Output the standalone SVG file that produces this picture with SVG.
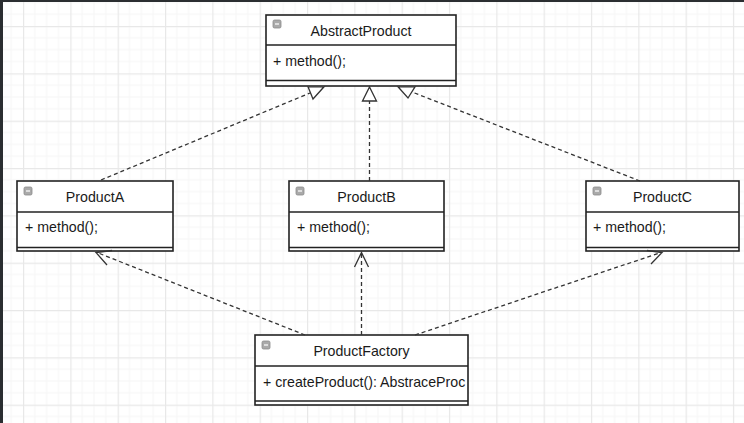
<svg xmlns="http://www.w3.org/2000/svg" width="744" height="423" viewBox="0 0 744 423">
  <defs>
    <pattern id="grid" patternUnits="userSpaceOnUse" x="23" y="26" width="47.33" height="47.33">
      <path d="M11.83 0V47.33M23.67 0V47.33M35.5 0V47.33M0 11.83H47.33M0 23.67H47.33M0 35.5H47.33" stroke="#f6f6f6" stroke-width="1" fill="none"/>
      <path d="M0.5 0V47.33M0 0.5H47.33" stroke="#e8e8e8" stroke-width="1.4" fill="none"/>
    </pattern>
    <clipPath id="clipF"><rect x="256" y="366" width="210" height="34"/></clipPath>
  </defs>
  <style>
    .box { fill: #ffffff; stroke: #222222; stroke-width: 1.6; }
    .div { stroke: #222222; stroke-width: 1.6; fill: none; }
    .title { font-family: "Liberation Sans", Arial, sans-serif; font-size: 14.2px; fill: #1a1a1a; text-anchor: middle; }
    .meth { font-family: "Liberation Sans", Arial, sans-serif; font-size: 14.2px; fill: #1a1a1a; }
    .icon { fill: #aaaaaa; stroke: #8a8a8a; stroke-width: 0.8; }
    .iconbar { stroke: #ffffff; stroke-width: 1.2; }
    .dash { stroke: #333333; stroke-width: 1.3; stroke-dasharray: 4 3; fill: none; }
    .head { stroke: #333333; stroke-width: 1.3; fill: #ffffff; stroke-linejoin: miter; }
    .open { stroke: #333333; stroke-width: 1.3; fill: none; }
  </style>
  <rect x="0" y="0" width="744" height="423" fill="#ffffff"/>
  <rect x="0" y="0" width="744" height="423" fill="url(#grid)"/>
  <rect x="0" y="0" width="3" height="423" fill="#2b2e31"/>
  <rect x="0" y="0" width="744" height="2" fill="#2b2e31"/>

  <g id="AbstractProduct">
    <rect class="box" x="266" y="15" width="190" height="71"/>
    <line class="div" x1="266" y1="45" x2="456" y2="45"/>
    <line class="div" x1="266" y1="80.5" x2="456" y2="80.5"/>
    <rect class="icon" x="273" y="20" width="8" height="8" rx="1.5"/>
    <line class="iconbar" x1="275" y1="24" x2="279" y2="24"/>
    <text class="title" x="361" y="36">AbstractProduct</text>
    <text class="meth" x="273" y="66">+ method();</text>
  </g>

  <g id="ProductA">
    <rect class="box" x="17" y="181" width="156" height="70"/>
    <line class="div" x1="17" y1="212" x2="173" y2="212"/>
    <line class="div" x1="17" y1="247.5" x2="173" y2="247.5"/>
    <rect class="icon" x="24" y="187" width="8" height="8" rx="1.5"/>
    <line class="iconbar" x1="26" y1="191" x2="30" y2="191"/>
    <text class="title" x="95" y="202">ProductA</text>
    <text class="meth" x="25" y="232">+ method();</text>
  </g>

  <g id="ProductB">
    <rect class="box" x="289" y="181" width="155" height="70"/>
    <line class="div" x1="289" y1="212" x2="444" y2="212"/>
    <line class="div" x1="289" y1="247.5" x2="444" y2="247.5"/>
    <rect class="icon" x="296" y="187" width="8" height="8" rx="1.5"/>
    <line class="iconbar" x1="298" y1="191" x2="302" y2="191"/>
    <text class="title" x="366.5" y="202">ProductB</text>
    <text class="meth" x="297" y="232">+ method();</text>
  </g>

  <g id="ProductC">
    <rect class="box" x="586" y="181" width="153" height="70"/>
    <line class="div" x1="586" y1="212" x2="739" y2="212"/>
    <line class="div" x1="586" y1="247.5" x2="739" y2="247.5"/>
    <rect class="icon" x="593" y="187" width="8" height="8" rx="1.5"/>
    <line class="iconbar" x1="595" y1="191" x2="599" y2="191"/>
    <text class="title" x="662.5" y="202">ProductC</text>
    <text class="meth" x="593" y="232">+ method();</text>
  </g>

  <g id="ProductFactory">
    <rect class="box" x="255" y="335" width="213" height="70"/>
    <line class="div" x1="255" y1="366" x2="468" y2="366"/>
    <line class="div" x1="255" y1="401" x2="468" y2="401"/>
    <rect class="icon" x="262" y="341" width="8" height="8" rx="1.5"/>
    <line class="iconbar" x1="264" y1="345" x2="268" y2="345"/>
    <text class="title" x="361.5" y="356">ProductFactory</text>
    <text class="meth" x="263" y="387" clip-path="url(#clipF)">+ createProduct(): AbstraceProc</text>
  </g>

  <g id="connectors">
    <line class="dash" x1="101" y1="180" x2="310" y2="93"/>
    <polygon class="head" points="308,86.8 313,99 324,86.8"/>
    <line class="dash" x1="369.5" y1="181" x2="369.5" y2="101"/>
    <polygon class="head" points="362.5,101 369.5,87 376.5,101"/>
    <line class="dash" x1="640" y1="181" x2="412" y2="92"/>
    <polygon class="head" points="398,86.8 408,98 415,86.8"/>
    <line class="dash" x1="305" y1="335" x2="97" y2="252.5"/>
    <polyline class="open" points="107,265 96,252.5 112,250.5"/>
    <line class="dash" x1="361.5" y1="335" x2="361.5" y2="253"/>
    <polyline class="open" points="354.5,267 361.5,252.5 368.5,267"/>
    <line class="dash" x1="415" y1="335" x2="661" y2="252.5"/>
    <polyline class="open" points="651,264 662,252.5 647,250.5"/>
  </g>
</svg>
